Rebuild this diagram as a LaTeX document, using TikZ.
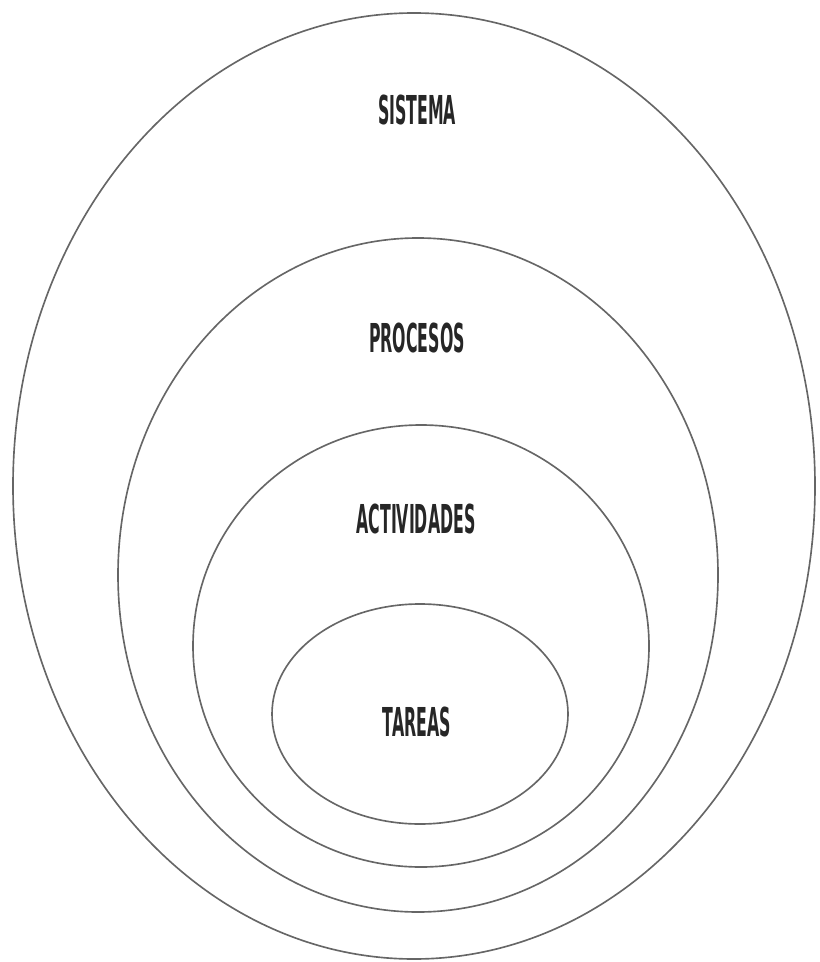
\documentclass[tikz,border=0pt]{standalone}
\usepackage{fontspec}
\newfontfamily\levelfont[FakeStretch=0.44]{DejaVu Sans Condensed Bold}
\begin{document}
\begin{tikzpicture}[x=0.03cm, y=-0.03cm, every node/.style={font=\levelfont\fontsize{34}{34}\selectfont, text=black!85}]
        \useasboundingbox (0,0) rectangle (819,962);
        % nested levels
        \draw[black!60, line width=1.4pt] (414,486) ellipse [x radius=401, y radius=473];
        \draw[black!60, line width=1.4pt] (418,575) ellipse [x radius=300, y radius=337];
        \draw[black!60, line width=1.4pt] (421,646) ellipse [x radius=228, y radius=221];
        \draw[black!60, line width=1.4pt] (420,714) ellipse [x radius=148, y radius=110];
        \node (sistema) at (417,110) {SISTEMA};
        \node (procesos) at (417,338) {PROCESOS};
        \node (actividades) at (416,519) {ACTIVIDADES};
        \node (tareas) at (417,722) {TAREAS};
    \end{tikzpicture}
\end{document}
